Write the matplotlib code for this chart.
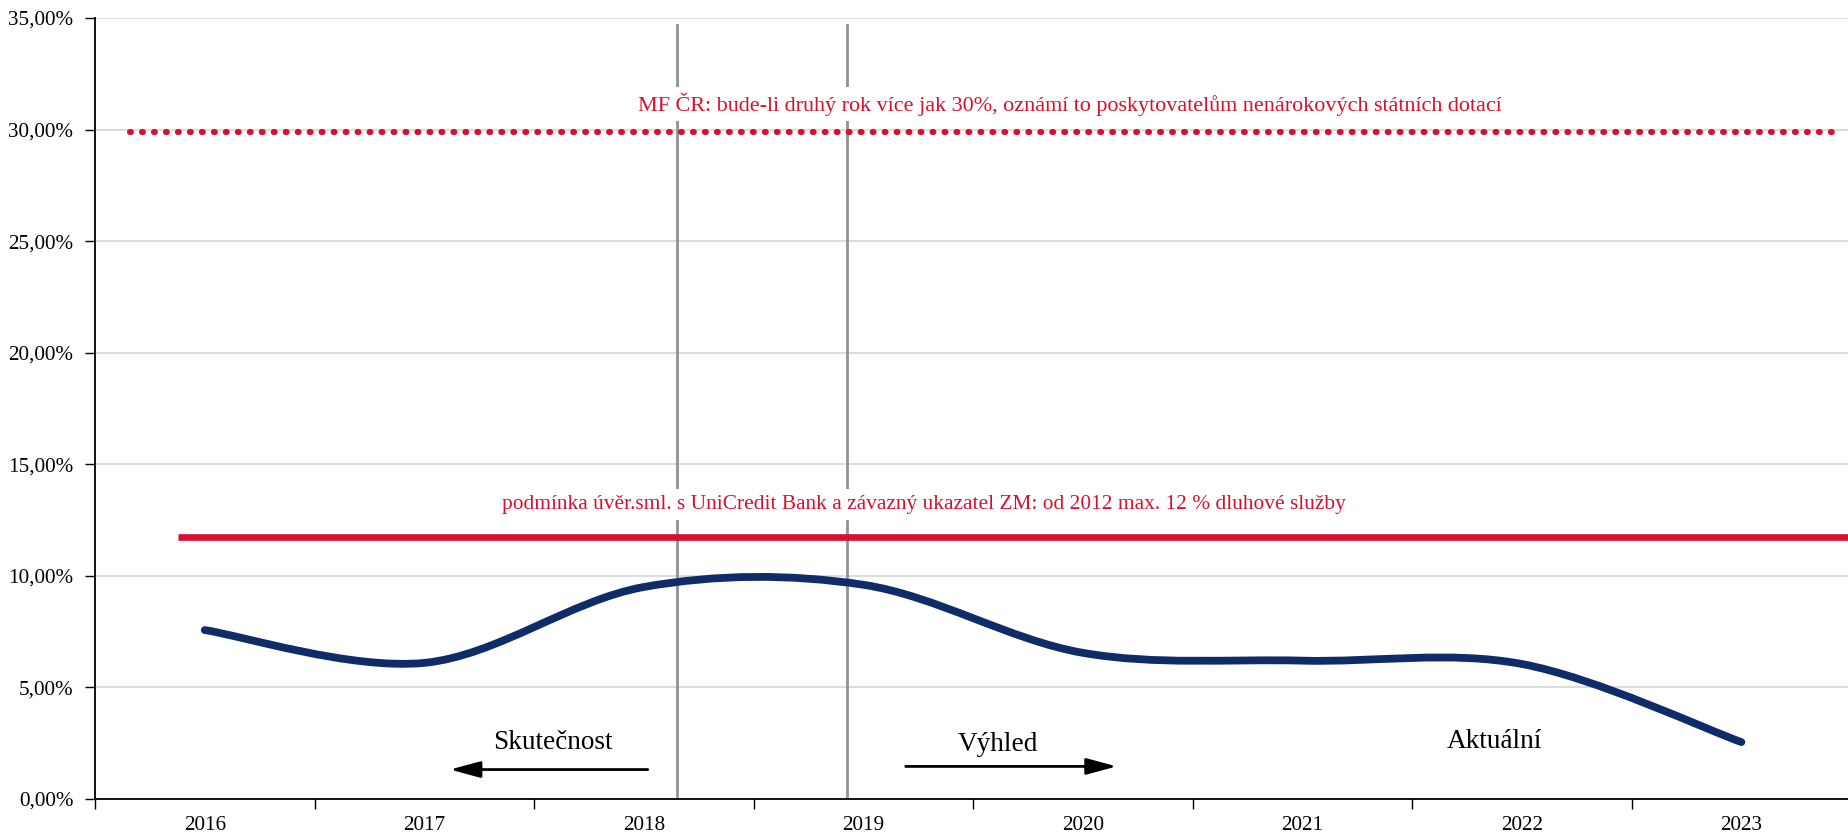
import numpy as np
import matplotlib.pyplot as plt
from matplotlib.path import Path
from matplotlib.patches import PathPatch
from matplotlib.ticker import FuncFormatter, MultipleLocator

plt.rcParams['font.family'] = ['Liberation Serif', 'DejaVu Serif']

# Data (share of debt service, %)
years = ['2016', '2017', '2018', '2019', '2020', '2021', '2022', '2023']
debt_service = [7.57, 6.10, 9.50, 9.60, 6.55, 6.20, 6.05, 2.55]
limit_bank = 11.75   # UniCredit / ZM limit
limit_mf = 29.9      # MF CR threshold

label_mf = ("MF ČR: bude-li druhý rok více jak 30%, oznámí to poskytovatelům "
            "nenárokových státních dotací")
label_bank = ("podmínka úvěr.sml. s UniCredit Bank a závazný ukazatel ZM: "
              "od 2012 max. 12 % dluhové služby")

red = '#D5112F'
navy = '#0F2B68'
gray = '#929292'

fig = plt.figure(figsize=(18.49, 8.33), dpi=100)
ax = fig.add_axes([95 / 1849, 1 - 799 / 833, 1 - 95 / 1849, (799 - 18) / 833])

ax.set_xlim(0, 7.99)
ax.set_ylim(0, 35)

# grid
ax.yaxis.set_major_locator(MultipleLocator(5))
ax.yaxis.set_major_formatter(FuncFormatter(lambda v, p: f"{v:.2f}".replace('.', ',') + '%'))
ax.grid(axis='y', color='#D9D9D9', lw=1.3, zorder=0)
ax.set_axisbelow(True)

# categories: ticks on boundaries, labels on centers
x = np.arange(len(years)) + 0.5
ax.set_xticks(np.arange(0, len(years)))
ax.set_xticklabels([])
ax.set_xticks(x, minor=True)
ax.set_xticklabels(years, minor=True)
ax.tick_params(axis='x', which='major', length=7, width=1, direction='out')
ax.tick_params(axis='x', which='minor', length=0, pad=12, labelsize=15.2)
ax.tick_params(axis='y', length=7, width=1, direction='out', pad=8.5, labelsize=15.2)

for s in ['top', 'right']:
    ax.spines[s].set_visible(False)
for s in ['left', 'bottom']:
    ax.spines[s].set_linewidth(1.3)

# smoothed line (Excel-like bezier spline)
y = np.array(debt_service)
pts = np.column_stack([x, y])
verts = [pts[0]]
codes = [Path.MOVETO]
n = len(pts)
for i in range(n - 1):
    p_prev = pts[i - 1] if i > 0 else pts[i]
    p_next2 = pts[i + 2] if i + 2 < n else pts[i + 1]
    c1 = pts[i] + (pts[i + 1] - p_prev) / 6
    c2 = pts[i + 1] - (p_next2 - pts[i]) / 6
    verts += [c1, c2, pts[i + 1]]
    codes += [Path.CURVE4] * 3
ax.add_patch(PathPatch(Path(verts, codes), fill=False, edgecolor=navy, lw=5.6,
                       capstyle='round', zorder=6))

# limit lines
ax.plot([0.378, 7.99], [limit_bank, limit_bank], color=red, lw=4.8,
        solid_capstyle='butt', zorder=5)
ax.plot([0.159, 7.93], [limit_mf, limit_mf], color=red, lw=4.4,
        linestyle=(0, (0.15, 1.81)), dash_capstyle='round', zorder=5)

# vertical separators
for xv in [2.650, 3.424]:
    ax.plot([xv, xv], [0.13, 34.7], color=gray, lw=2, zorder=3)

# labels
ax.text(4.44, 31.15, label_mf, color=red, fontsize=15.9, ha='center', va='center',
        bbox=dict(facecolor='white', edgecolor='none', pad=4), zorder=4)
ax.text(3.777, 13.2, label_bank, color=red, fontsize=15.4, ha='center', va='center',
        bbox=dict(facecolor='white', edgecolor='none', pad=4), zorder=4)

ax.text(2.088, 2.51, 'Skutečnost', fontsize=19.6, ha='center', va='center', zorder=7)
ax.text(4.112, 2.45, 'Výhled', fontsize=19.6, ha='center', va='center', zorder=7)
ax.text(6.375, 2.57, 'Aktuální', fontsize=19.6, ha='center', va='center', zorder=7)

arrow = dict(arrowstyle='-|>,head_length=1.85,head_width=0.5', color='black', lw=2,
             shrinkA=0, shrinkB=0, mutation_scale=10)
ax.annotate('', xy=(1.617, 1.32), xytext=(2.518, 1.32), arrowprops=arrow, zorder=7)
ax.annotate('', xy=(4.654, 1.46), xytext=(3.693, 1.46), arrowprops=arrow, zorder=7)

fig.savefig('out.png', dpi=100)
